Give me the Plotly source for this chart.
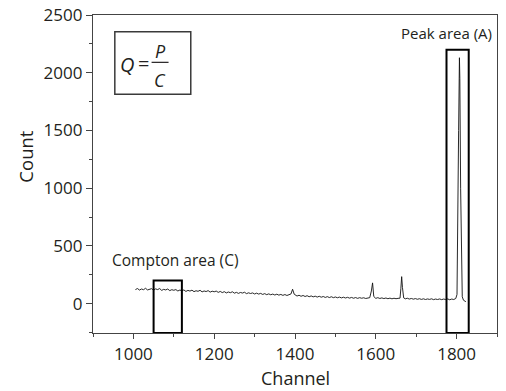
import plotly.graph_objects as go

# ---------------- data ----------------
channels = [
    1005, 1010, 1015, 1020, 1025, 1030, 1035, 1040, 1045, 1050,
    1055, 1060, 1065, 1070, 1075, 1080, 1085, 1090, 1095, 1100,
    1105, 1110, 1115, 1120, 1125, 1130, 1135, 1140, 1145, 1150,
    1155, 1160, 1165, 1170, 1175, 1180, 1185, 1190, 1195, 1200,
    1205, 1210, 1215, 1220, 1225, 1230, 1235, 1240, 1245, 1250,
    1255, 1260, 1265, 1270, 1275, 1280, 1285, 1290, 1295, 1300,
    1305, 1310, 1315, 1320, 1325, 1330, 1335, 1340, 1345, 1350,
    1355, 1360, 1365, 1370, 1375, 1380, 1385, 1390, 1394, 1398,
    1405, 1410, 1415, 1420, 1425, 1430, 1435, 1440, 1445, 1450,
    1455, 1460, 1465, 1470, 1475, 1480, 1485, 1490, 1495, 1500,
    1505, 1510, 1515, 1520, 1525, 1530, 1535, 1540, 1545, 1550,
    1555, 1560, 1565, 1570, 1575, 1580, 1585, 1589, 1592, 1595,
    1600, 1605, 1610, 1615, 1620, 1625, 1630, 1635, 1640, 1645,
    1650, 1655, 1660, 1662, 1664, 1666, 1669, 1673, 1678, 1683,
    1688, 1693, 1698, 1703, 1708, 1713, 1718, 1723, 1728, 1733,
    1738, 1743, 1748, 1753, 1758, 1763, 1768, 1773, 1778, 1783,
    1788, 1793, 1798, 1801, 1803, 1805, 1807, 1808, 1810, 1812,
    1814, 1817, 1820, 1823,
]
counts = [
    122, 131, 118, 127, 121, 133, 119, 126, 130, 117,
    128, 122, 131, 115, 124, 119, 127, 113, 121, 116,
    122, 110, 118, 112, 119, 106, 115, 109, 117, 104,
    112, 107, 116, 102, 110, 105, 113, 100, 108, 103,
    109, 98, 106, 96, 104, 93, 101, 95, 103, 91,
    98, 89, 97, 92, 99, 87, 94, 88, 93, 84,
    91, 83, 89, 80, 87, 78, 85, 77, 83, 75,
    82, 74, 80, 72, 79, 71, 78, 84, 125, 82,
    66, 73, 64, 71, 62, 69, 60, 67, 59, 65,
    57, 64, 56, 62, 54, 61, 53, 60, 52, 58,
    51, 57, 50, 56, 49, 55, 48, 54, 47, 53,
    46, 52, 47, 51, 45, 50, 52, 110, 180, 62,
    46, 52, 45, 50, 44, 49, 43, 48, 42, 47,
    43, 46, 48, 130, 234, 140, 50, 42, 47, 40,
    45, 39, 44, 38, 43, 37, 42, 36, 41, 37,
    42, 35, 40, 36, 41, 35, 40, 36, 41, 34,
    40, 36, 45, 80, 600, 1500, 2130, 1950, 1000, 250,
    60, 30, 24, 17,
]

x_ticks = [1000, 1200, 1400, 1600, 1800]
y_ticks = [0, 500, 1000, 1500, 2000, 2500]

compton_box = (1050, 1120, 200)   # x0, x1, top
peak_box = (1775, 1830, 2200)

X_RANGE = [900, 1900]
Y_RANGE = [-254, 2500]

FONT = "Open Sans"
TXT = "#231f20"

fig = go.Figure()
fig.add_trace(go.Scatter(
    x=channels, y=counts, mode="lines",
    line=dict(color="#111111", width=0.9),
    showlegend=False, hoverinfo="skip",
))

# region boxes
for x0, x1, top in (compton_box, peak_box):
    fig.add_shape(type="rect", xref="x", yref="y",
                  x0=x0, x1=x1, y0=Y_RANGE[0], y1=top,
                  line=dict(color="#000000", width=2), fillcolor="rgba(0,0,0,0)")

fig.add_annotation(x=1104, y=374, xref="x", yref="y", text="Compton area (C)",
                   showarrow=False, font=dict(family=FONT, size=15.5, color=TXT))
fig.add_annotation(x=1776, y=2340, xref="x", yref="y", text="Peak area (A)",
                   showarrow=False, font=dict(family=FONT, size=15, color=TXT))

# Q = P / C box
fig.add_shape(type="rect", xref="x", yref="y",
              x0=954, x1=1142, y0=1813, y1=2355,
              line=dict(color="#3a3a3a", width=1.5), fillcolor="rgba(0,0,0,0)")
fig.add_annotation(x=985, y=2070, xref="x", yref="y", text="<i>Q</i>",
                   showarrow=False, font=dict(family=FONT, size=20, color=TXT))
fig.add_annotation(x=1024, y=2080, xref="x", yref="y", text="=",
                   showarrow=False, font=dict(family=FONT, size=20, color=TXT))
fig.add_shape(type="line", xref="x", yref="y",
              x0=1045, x1=1087, y0=2090, y1=2090,
              line=dict(color=TXT, width=1.2))
fig.add_annotation(x=1066, y=2190, xref="x", yref="y", text="<i>P</i>",
                   showarrow=False, font=dict(family=FONT, size=18, color=TXT))
fig.add_annotation(x=1066, y=1935, xref="x", yref="y", text="<i>C</i>",
                   showarrow=False, font=dict(family=FONT, size=18, color=TXT))

# axis titles
fig.add_annotation(x=0.5, y=-0.143, xref="paper", yref="paper", text="Channel",
                   showarrow=False, xanchor="center", yanchor="middle",
                   font=dict(family=FONT, size=18, color=TXT))
fig.add_annotation(x=-0.168, y=0.555, xref="paper", yref="paper", text="Count",
                   showarrow=False, xanchor="center", yanchor="middle", textangle=-90,
                   font=dict(family=FONT, size=18.5, color=TXT))

axis_common = dict(
    showline=True, linecolor="#444444", linewidth=1.3, mirror=True,
    showgrid=False, zeroline=False, ticks="outside", tickcolor="#444444",
    tickfont=dict(family=FONT, size=17, color=TXT), automargin=False,
)
fig.update_xaxes(range=X_RANGE, tickvals=x_ticks, ticklen=5, tickwidth=1.2,
                 minor=dict(dtick=100, tick0=900, ticklen=3, ticks="outside", tickcolor="#444444"),
                 **axis_common)
fig.update_yaxes(range=Y_RANGE, tickvals=y_ticks, ticklen=6, tickwidth=1.2,
                 minor=dict(dtick=250, tick0=0, ticklen=3, ticks="outside", tickcolor="#444444"),
                 **axis_common)

fig.update_layout(
    width=506, height=391,
    margin=dict(l=93, r=9, t=15, b=58),
    plot_bgcolor="white", paper_bgcolor="white",
    font=dict(family=FONT, color=TXT),
)

# remove the default 8px page margin so the figure sits at the window origin
fig.write_html("out.html",
               config={"displayModeBar": False},
               post_script="document.body.style.margin='0';document.body.style.padding='0';")
